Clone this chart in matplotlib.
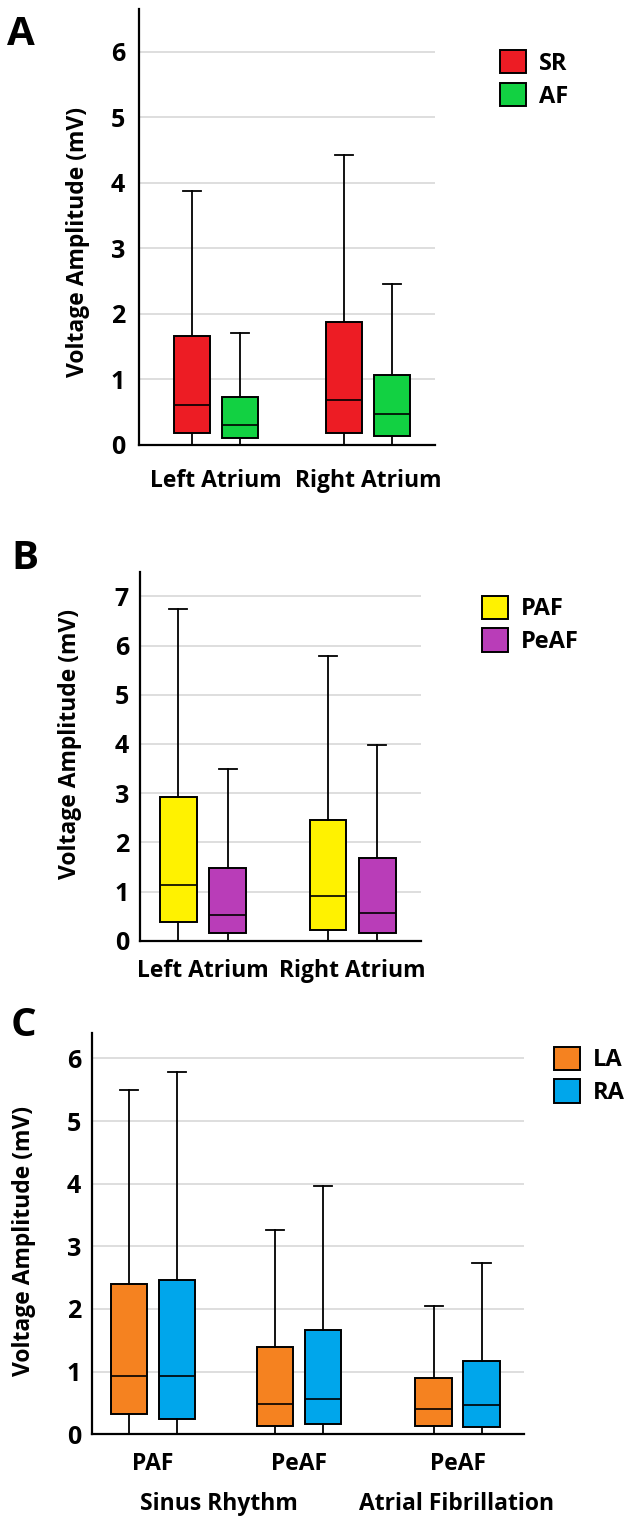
import matplotlib
matplotlib.use('Agg')
import matplotlib.pyplot as plt
from matplotlib.patches import Patch

plt.rcParams['font.family'] = ['Open Sans', 'DejaVu Sans']
plt.rcParams['font.weight'] = 'bold'

# box stats: [lower whisker, q1, median, q3, upper whisker]
regions = ['Left Atrium', 'Right Atrium']
sr_stats = [[0, 0.19, 0.61, 1.66, 3.87], [0, 0.19, 0.68, 1.88, 4.42]]
af_stats = [[0, 0.10, 0.31, 0.74, 1.71], [0, 0.14, 0.47, 1.07, 2.46]]

paf_stats = [[0, 0.38, 1.13, 2.93, 6.75], [0, 0.22, 0.91, 2.46, 5.79]]
peaf_stats = [[0, 0.15, 0.52, 1.48, 3.48], [0, 0.15, 0.56, 1.69, 3.98]]

c_groups = ['PAF', 'PeAF', 'PeAF']
c_rhythms = ['Sinus Rhythm', 'Atrial Fibrillation']
la_stats = [[0, 0.33, 0.93, 2.40, 5.49], [0, 0.14, 0.49, 1.39, 3.26], [0, 0.14, 0.40, 0.90, 2.05]]
ra_stats = [[0, 0.24, 0.93, 2.46, 5.78], [0, 0.16, 0.56, 1.67, 3.96], [0, 0.12, 0.46, 1.17, 2.74]]

W, H = 627, 1517
FS = 16.5


def fx(px):
    return px / W


def fy(py):
    return 1 - py / H


def add_axes(x0, x1, y_top, y_bottom):
    return fig.add_axes([fx(x0), fy(y_bottom), fx(x1) - fx(x0), fy(y_top) - fy(y_bottom)])


def draw_boxes(ax, stats, color, positions, width):
    data = [dict(whislo=s[0], q1=s[1], med=s[2], q3=s[3], whishi=s[4], fliers=[]) for s in stats]
    ax.bxp(data, positions=positions, widths=width, capwidths=width * 0.5,
           patch_artist=True, showfliers=False, manage_ticks=False,
           boxprops=dict(facecolor=color, edgecolor='black', linewidth=1.4),
           medianprops=dict(color='black', linewidth=1.2),
           whiskerprops=dict(color='black', linewidth=1.3),
           capprops=dict(color='black', linewidth=1.3), zorder=3)


def style_axis(ax, ymax, ntop, xpad, ypad):
    ax.set_ylim(0, ymax)
    ax.set_yticks(range(0, ntop + 1))
    for s in ['top', 'right']:
        ax.spines[s].set_visible(False)
    for s in ['left', 'bottom']:
        ax.spines[s].set_linewidth(1.6)
    ax.tick_params(axis='both', length=0)
    ax.tick_params(axis='x', pad=xpad, labelsize=FS)
    ax.tick_params(axis='y', pad=ypad, labelsize=18)
    ax.yaxis.grid(True, color='#d4d4d4', linewidth=1.1)
    ax.set_axisbelow(True)


def add_legend(ax, labels, colors, x, y):
    handles = [Patch(facecolor=c, edgecolor='black', linewidth=1.4, label=l) for l, c in zip(labels, colors)]
    ax.legend(handles=handles, loc='upper left', bbox_to_anchor=(fx(x), fy(y)),
              bbox_transform=fig.transFigure, frameon=False, fontsize=17,
              handlelength=1.1, handleheight=1.15, labelspacing=0.3,
              handletextpad=0.55, borderpad=0, borderaxespad=0)


def ylabel(ax, xcenter, axis_x, width_px, ypos):
    ax.set_ylabel('Voltage Amplitude (mV)', fontsize=FS, fontweight='bold')
    ax.yaxis.label.set_verticalalignment('center')
    ax.yaxis.set_label_coords((xcenter - axis_x) / width_px, ypos)


fig = plt.figure(figsize=(W / 100, H / 100), dpi=100)

# ---- Panel A
axA = add_axes(139, 435, 9.3, 445)
gx = [0, 1]
off, bw = 0.158, 0.237
draw_boxes(axA, sr_stats, '#ED1C24', [g - off for g in gx], bw)
draw_boxes(axA, af_stats, '#12D142', [g + off for g in gx], bw)
axA.set_xlim(-0.505, 1.438)
style_axis(axA, 6.65, 6, 17, 10)
axA.set_xticks(gx, regions)
ylabel(axA, 78, 139, 296, 0.466)
add_legend(axA, ['SR', 'AF'], ['#ED1C24', '#12D142'], 500, 50)
fig.text(fx(7), fy(45), 'A', fontsize=29, fontweight='bold', ha='left', va='baseline')

# ---- Panel B
axB = add_axes(140, 421, 571.7, 940.7)
off, bw = 0.165, 0.245
draw_boxes(axB, paf_stats, '#FFF200', [g - off for g in gx], bw)
draw_boxes(axB, peaf_stats, '#B93DB8', [g + off for g in gx], bw)
axB.set_xlim(-0.421, 1.457)
style_axis(axB, 7.5, 7, 13, 8)
axB.set_xticks(gx, regions)
ylabel(axB, 70, 140, 281, 0.533)
add_legend(axB, ['PAF', 'PeAF'], ['#FFF200', '#B93DB8'], 482, 595.7)
fig.text(fx(11), fy(569), 'B', fontsize=29, fontweight='bold', ha='left', va='baseline')

# ---- Panel C
axC = add_axes(92, 524, 1033.3, 1434.3)
cx = [0, 1, 2.087]
off, bw = 0.164, 0.25
draw_boxes(axC, la_stats, '#F58220', [g - off for g in cx], bw)
draw_boxes(axC, ra_stats, '#00A6EB', [g + off for g in cx], bw)
axC.set_xlim(-0.417, 2.542)
style_axis(axC, 6.4, 6, 13, 8)
axC.set_xticks(cx, c_groups)
for x, txt in zip([0.45, 2.08], c_rhythms):
    axC.text(x, -0.175, txt, transform=axC.get_xaxis_transform(), ha='center', va='center',
             fontsize=FS, fontweight='bold')
ylabel(axC, 24, 92, 432, 0.482)
add_legend(axC, ['LA', 'RA'], ['#F58220', '#00A6EB'], 554, 1046.7)
fig.text(fx(11), fy(1036), 'C', fontsize=29, fontweight='bold', ha='left', va='baseline')

fig.savefig('out.png', dpi=100)
